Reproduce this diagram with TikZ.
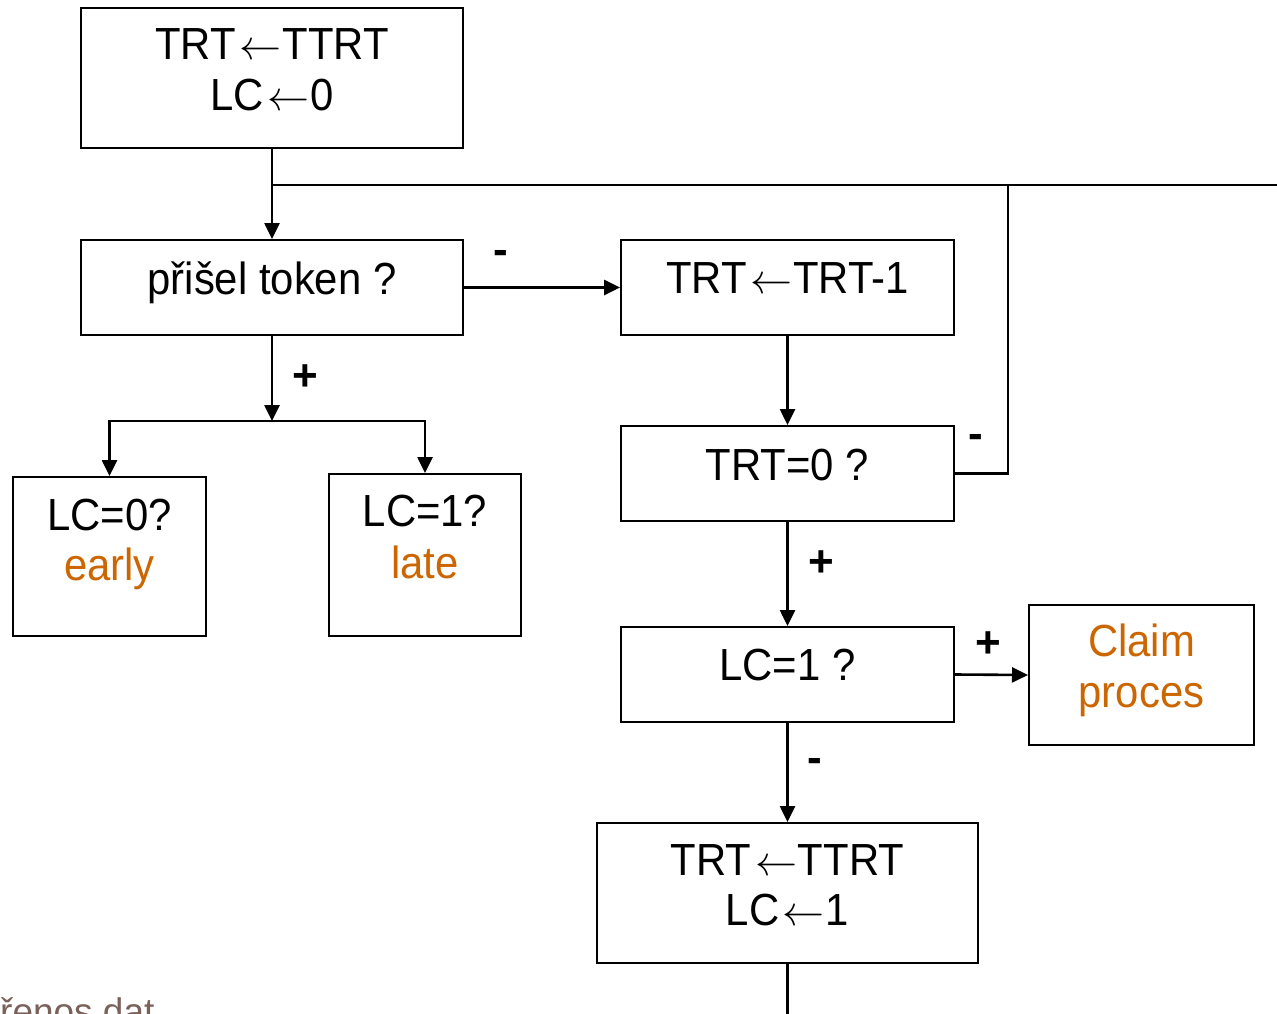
\RequirePackage{fix-cm}
\documentclass[tikz,border=0pt]{standalone}
\usepackage{fontspec}
\setmainfont{Liberation Sans}[FakeStretch=0.93]
\newfontfamily\plainsans{Liberation Sans}
\usetikzlibrary{arrows.meta}
\definecolor{accent}{RGB}{204,102,0}
\definecolor{footer}{RGB}{122,98,90}
% long thin assignment arrow
\newcommand{\assign}{\kern0.08em{\fontsize{42}{42}\selectfont$\leftarrow$}\kern0.02em}
\tikzset{
  box/.style={draw=black, line width=2pt, rectangle, inner sep=0pt},
  txt/.style={inner sep=0pt, anchor=base, font=\fontsize{45}{51}\selectfont},
  sign/.style={inner sep=0pt, font=\plainsans\bfseries\fontsize{44}{51}\selectfont},
  flow/.style={draw=black, line width=2.6pt, -{Triangle[length=16pt,width=15pt]}},
  wire/.style={draw=black, line width=2.6pt},
}
\begin{document}
\begin{tikzpicture}[x=1pt,y=-1pt]
\useasboundingbox (0,0) rectangle (1277,1014);
\fill[white] (0,0) rectangle (1277,1014);

% boxes
\node[box, minimum width=382pt, minimum height=140pt] (b1) at (272,78) {};
\node[box, minimum width=382pt, minimum height=95pt] (b2) at (272,287.5) {};
\node[box, minimum width=333pt, minimum height=95pt] (b3) at (787.5,287.5) {};
\node[box, minimum width=333pt, minimum height=95pt] (b4) at (787.5,473.5) {};
\node[box, minimum width=193pt, minimum height=159pt] (b5) at (109.5,556.5) {};
\node[box, minimum width=192pt, minimum height=162pt] (b6) at (425,555) {};
\node[box, minimum width=333pt, minimum height=95pt] (b7) at (787.5,674.5) {};
\node[box, minimum width=225pt, minimum height=140pt] (b8) at (1141.5,675) {};
\node[box, minimum width=381pt, minimum height=140pt] (b9) at (787.5,893) {};

% box texts
\node[txt] (t1a) at (272,60) {TRT\assign TTRT};
\node[txt] (t1b) at (272,111) {LC\assign 0};
\node[txt] (t2) at (272,294) {přišel token ?};
\node[txt] (t3) at (787.5,293) {TRT\assign TRT-1};
\node[txt] (t4) at (787.5,480) {TRT=0 ?};
\node[txt] (t5a) at (109.5,530) {LC=0?};
\node[txt, text=accent] (t5b) at (109.5,580) {early};
\node[txt] (t6a) at (425,526) {LC=1?};
\node[txt, text=accent] (t6b) at (425,578) {late};
\node[txt] (t7) at (787.5,680) {LC=1 ?};
\node[txt, text=accent] (t8a) at (1141.5,656) {Claim};
\node[txt, text=accent] (t8b) at (1141.5,707) {proces};
\node[txt] (t9a) at (787.5,875) {TRT\assign TTRT};
\node[txt] (t9b) at (787.5,925) {LC\assign 1};

% junction points
\coordinate (top) at (272,185);
\coordinate (loop) at (1008,185);
\coordinate (exitR) at (1277,185);
\coordinate (split) at (272,421);
\coordinate (exitB) at (787.5,1014);

% connectors
\draw[flow] (b1.south) -- (b2.north);
\draw[wire] (top) -- (exitR);
\draw[wire] (b4.east) -| (loop);
\draw[flow] (b2.east) -- (b3.west);
\draw[flow] (b2.south) -- (split);
\draw[flow] (split) -| (b5.north);
\draw[flow] (split) -| (b6.north);
\draw[flow] (b3.south) -- (b4.north);
\draw[flow] (b4.south) -- (b7.north);
\draw[flow] (b7.east) -- (b8.west);
\draw[flow] (b7.south) -- (b9.north);
\draw[wire] (b9.south) -- (exitB);

% branch labels
\node[sign] (s1) at (501,257) {-};
\node[sign] (s2) at (305,378) {+};
\node[sign] (s3) at (976,441) {-};
\node[sign] (s4) at (821,564) {+};
\node[sign] (s5) at (988,645) {+};
\node[sign] (s6) at (815,765) {-};

% footer
\node[inner sep=0pt, anchor=base west, text=footer, font=\plainsans\fontsize{37}{40}\selectfont] (foot) at (0,1024) {řenos dat};
\end{tikzpicture}
\end{document}
